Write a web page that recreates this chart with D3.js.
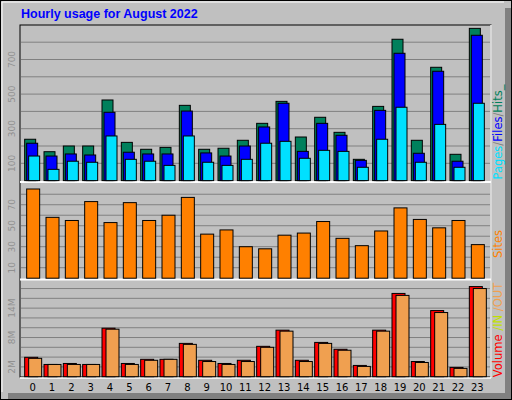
<!DOCTYPE html>
<html><head><meta charset="utf-8">
<script src="https://cdn.jsdelivr.net/npm/d3@7"></script>
<style>body{margin:0;background:#fff}svg{display:block}</style>
</head><body>
<script>
const hours = d3.range(24).map(String);
const hits  = [239,167,200,200,466,221,181,192,435,181,187,233,331,458,252,366,279,123,429,817,233,655,152,880];
const files = [216,142,154,148,395,164,154,154,402,160,142,200,310,447,169,331,262,117,406,736,158,632,112,840];
const pages = [142,65,112,106,258,123,112,88,258,106,88,123,216,227,129,175,169,77,239,424,106,325,77,447];
const sites = [85,58,55,73,53,72,55,60,77,42,46,30,28,41,43,54,38,31,45,67,56,48,55,32];
const volOut = [3.96,2.5,2.7,2.5,9.9,2.7,3.55,3.55,6.8,3.35,2.7,3.35,6.2,9.5,3.35,7.0,5.6,2.3,9.5,17.0,3.1,13.5,1.9,18.4];
const volIn  = [3.75,2.5,2.5,2.5,9.7,2.5,3.35,3.55,6.6,3.1,2.5,3.1,6.0,9.3,3.1,6.8,5.4,2.1,9.3,16.6,2.9,13.1,1.7,18.0];
const hitTicks = [100,300,500,700];
const siteTicks = [10,30,50,70];
const volTicks = [2,8,14];

const W=512,H=400;
const svg=d3.select("body").append("svg").attr("width",W).attr("height",H);
svg.append("rect").attr("width",W).attr("height",H).attr("fill","#c0c0c0");
svg.append("rect").attr("x",505).attr("y",8).attr("width",7).attr("height",392).attr("fill","#808080");
svg.append("rect").attr("x",8).attr("y",393).attr("width",504).attr("height",7).attr("fill","#808080");
svg.append("rect").attr("x",0.5).attr("y",0.5).attr("width",W-1).attr("height",H-1).attr("fill","none").attr("stroke","#000");
svg.append("line").attr("x1",2).attr("y1",2).attr("x2",504).attr("y2",2).attr("stroke","#fff");
svg.append("line").attr("x1",2).attr("y1",2).attr("x2",2).attr("y2",392).attr("stroke","#fff");

svg.append("text").attr("x",21).attr("y",18).text("Hourly usage for August 2022")
  .attr("font-family","Liberation Sans, Arial, sans-serif").attr("font-weight","bold").attr("font-size",12.5).attr("fill","#0000ff");

const L=20,R=491;
const x=d3.scaleBand().domain(hours).range([L+3,R-4]).paddingInner(0).paddingOuter(0);
svg.append("rect").attr("x",L).attr("y",25).attr("width",R-L).attr("height",352).attr("fill","none").attr("stroke","#000");
svg.append("line").attr("x1",R).attr("x2",R).attr("y1",25).attr("y2",378).attr("stroke","#fff").attr("stroke-width",1.5);
svg.append("line").attr("x1",L).attr("x2",R).attr("y1",378).attr("y2",378).attr("stroke","#fff").attr("stroke-width",1.5);
[182,279.5].forEach(y=>svg.append("line").attr("x1",L).attr("x2",R).attr("y1",y).attr("y2",y).attr("stroke","#fff").attr("stroke-width",2));

const yH=d3.scaleLinear().domain([0,900]).range([180.6,24.9]);
const yS=d3.scaleLinear().domain([0,89]).range([278.2,184.8]);
const yV=d3.scaleLinear().domain([0,19.6]).range([376.7,280.7]);

function grid(scale,vals){
  svg.append("g").selectAll("line").data(vals).join("line")
   .attr("x1",L+1).attr("x2",R-1).attr("y1",d=>scale(d)).attr("y2",d=>scale(d)).attr("stroke","#808080");
}
grid(yH,d3.range(100,900,100));
grid(yS,d3.range(10,90,10));
grid(yV,d3.range(2,20,2));

function ticks(scale,vals,fmt){
  svg.append("g").selectAll("text").data(vals).join("text")
   .attr("transform",d=>`translate(15,${scale(d)}) rotate(-90)`).attr("text-anchor","middle")
   .attr("font-family","DejaVu Sans, sans-serif").attr("font-size",9).attr("fill","#909090").text(fmt);
}
ticks(yH,hitTicks,d=>d);
ticks(yS,siteTicks,d=>d);
ticks(yV,volTicks,d=>d+"M");

const xc=h=>x(h)+x.bandwidth()/2;
function bars(data,scale,color,off,w){
  svg.append("g").selectAll("rect").data(data).join("rect")
   .attr("x",(d,i)=>xc(hours[i])+off).attr("width",w)
   .attr("y",d=>scale(d)).attr("height",d=>scale(0)-scale(d))
   .attr("fill",color).attr("stroke","#000").attr("stroke-width",1);
}
bars(hits,yH,"#00805c",-8,11);
bars(files,yH,"#0000ff",-6,11);
bars(pages,yH,"#00e0ff",-4,11);
bars(sites,yS,"#ff8000",-6,13);
bars(volOut,yV,"#ff0000",-8,13);
bars(volIn,yV,"#f0a050",-4,13);

svg.append("g").selectAll("text").data(hours).join("text")
  .attr("x",d=>xc(d)).attr("y",391).attr("text-anchor","middle")
  .attr("font-family","DejaVu Sans, sans-serif").attr("font-size",10).attr("fill","#000").text(d=>d);

function sideLabel(yc,parts){
  const t=svg.append("text").attr("transform",`translate(502,${yc}) rotate(-90)`).attr("text-anchor","middle")
   .attr("font-family","DejaVu Sans, sans-serif").attr("font-size",11.5);
  parts.forEach(([s,c])=>t.append("tspan").attr("fill",c).text(s));
}
sideLabel(132,[["Pages","#00e0ff"],["/","#808080"],["Files","#0000ff"],["/","#808080"],["Hits_","#00805c"]]);
sideLabel(244,[["Sites","#ff8000"]]);
sideLabel(330,[["Volume","#ff0000"],[" /IN","#c0e000"],[" /OUT","#f0a050"]]);
</script>
</body></html>
